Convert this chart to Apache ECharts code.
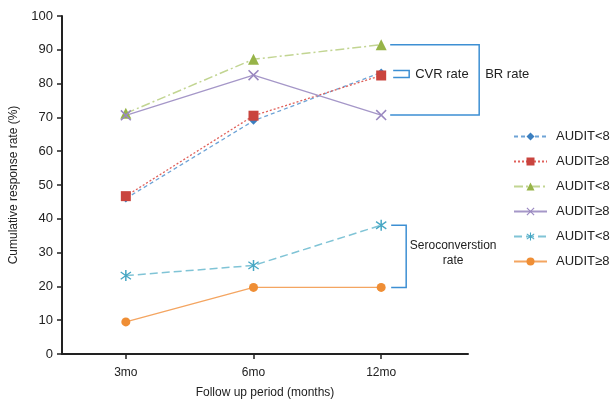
<!DOCTYPE html>
<html>
<head>
<meta charset="utf-8">
<title>response rate</title>
<script src="https://cdn.jsdelivr.net/npm/echarts@6/dist/echarts.min.js"></script>
<style>
  body { margin: 0; background: #fff; }
  #main { width: 611px; height: 399px; }
</style>
</head>
<body>
<div id="main"></div>
<script>
// follow-up points
var periods = ['3mo', '6mo', '12mo'];
var xPos = [1, 2, 3];
var legendNames = ['AUDIT<8', 'AUDIT\u22658', 'AUDIT<8', 'AUDIT\u22658', 'AUDIT<8', 'AUDIT\u22658'];

// CVR rate
var cvrLow = [46, 69, 83.3];
var cvrHigh = [46.7, 70.5, 82.4];
// BR rate
var brLow = [71.2, 87.2, 91.5];
var brHigh = [70.6, 82.5, 70.7];
// seroconversion rate
var seroLow = [23.2, 26.2, 38.1];
var seroHigh = [9.5, 19.7, 19.7];

function pts(vals) {
  return xPos.map(function (x, i) { return [x, vals[i]]; });
}

var xSym = 'path://M0,1L1,0L5,4L9,0L10,1L6,5L10,9L9,10L5,6L1,10L0,9L4,5Z';
var starSym = 'path://M4.4,0H5.6V10H4.4Z M0.6,2.2L1.2,1.2L9.4,7.8L8.8,8.8Z M8.8,1.2L9.4,2.2L1.2,8.8L0.6,7.8Z';
var font = 'Liberation Sans, Arial, sans-serif';

var chart = echarts.init(document.getElementById('main'));

var option = {
  animation: false,
  textStyle: { fontFamily: font },
  grid: { left: 62, top: 16, right: 143, bottom: 45, outerBoundsMode: 'none' },
  legend: {
    orient: 'vertical',
    left: 513,
    top: 130,
    padding: 0,
    itemWidth: 33,
    itemHeight: 10,
    itemGap: 12,
    textStyle: { fontSize: 13, color: '#222', padding: [0, 0, 0, 4] },
    formatter: function (name) { return legendNames[+name.slice(1) - 1]; },
    data: ['s1', 's2', 's3', 's4', 's5', 's6']
  },
  xAxis: {
    type: 'value',
    min: 0.5,
    max: 3.68,
    name: 'Follow up period (months)',
    nameLocation: 'middle',
    nameGap: 33,
    nameTextStyle: { fontSize: 12, color: '#222' },
    axisLine: { lineStyle: { color: '#222', width: 2 } },
    axisTick: { customValues: xPos, length: 5, lineStyle: { color: '#222', width: 1.5 } },
    axisLabel: {
      customValues: xPos,
      fontSize: 12,
      color: '#222',
      margin: 13,
      formatter: function (v) { return periods[xPos.indexOf(v)] || ''; }
    },
    splitLine: { show: false }
  },
  yAxis: {
    type: 'value',
    min: 0,
    max: 100,
    interval: 10,
    name: 'Cumulative response rate (%)',
    nameLocation: 'middle',
    nameGap: 42,
    nameTextStyle: { fontSize: 12, color: '#222' },
    axisLine: { show: true, lineStyle: { color: '#222', width: 2 } },
    axisTick: { show: true, length: 5, lineStyle: { color: '#222', width: 1.5 } },
    axisLabel: { fontSize: 13, color: '#222', margin: 9 },
    splitLine: { show: false }
  },
  series: [
    {
      name: 's1', type: 'line', data: pts(cvrLow),
      symbol: 'diamond', symbolSize: 8,
      itemStyle: { color: '#3b7fc0' },
      lineStyle: { color: '#6ea3d6', width: 1.3, type: [4, 3] }
    },
    {
      name: 's2', type: 'line', data: pts(cvrHigh),
      symbol: 'rect', symbolSize: 10,
      itemStyle: { color: '#c9443e' },
      lineStyle: { color: '#e0605a', width: 1.3, type: [2, 2] }
    },
    {
      name: 's3', type: 'line', data: pts(brLow),
      symbol: 'triangle', symbolSize: 11,
      itemStyle: { color: '#97b448' },
      lineStyle: { color: '#c2d592', width: 1.5, type: [9, 3, 2, 3] }
    },
    {
      name: 's4', type: 'line', data: pts(brHigh),
      symbol: xSym, symbolSize: 11,
      itemStyle: { color: '#9a88c0' },
      lineStyle: { color: '#a597c8', width: 1.3 }
    },
    {
      name: 's5', type: 'line', data: pts(seroLow),
      symbol: starSym, symbolSize: 11,
      itemStyle: { color: '#47a7c4' },
      lineStyle: { color: '#80c4d6', width: 1.5, type: [8, 4] }
    },
    {
      name: 's6', type: 'line', data: pts(seroHigh),
      symbol: 'circle', symbolSize: 9,
      itemStyle: { color: '#ef8e35' },
      lineStyle: { color: '#f4a561', width: 1.3 }
    }
  ]
};

chart.setOption(option);

// brackets and their labels, placed from the chart's own scale
function px(x, y) { return chart.convertToPixel({ gridIndex: 0 }, [x, y]); }
var bc = '#3d8fd3';
var x12 = px(3, 0)[0];
var brTop = px(3, brLow[2])[1], brBot = px(3, brHigh[2])[1];
var cvrTop = Math.min(px(3, cvrLow[2])[1], px(3, cvrHigh[2])[1]) - 2;
var cvrBot = Math.max(px(3, cvrLow[2])[1], px(3, cvrHigh[2])[1]) + 2;
var seTop = px(3, seroLow[2])[1], seBot = px(3, seroHigh[2])[1];

chart.setOption({
  graphic: [
    { type: 'polyline', shape: { points: [[x12 + 9, brTop], [x12 + 98, brTop], [x12 + 98, brBot], [x12 + 9, brBot]] },
      style: { stroke: bc, lineWidth: 1.5, fill: null } },
    { type: 'polyline', shape: { points: [[x12 + 12, cvrTop], [x12 + 28, cvrTop], [x12 + 28, cvrBot], [x12 + 12, cvrBot]] },
      style: { stroke: bc, lineWidth: 1.5, fill: null } },
    { type: 'polyline', shape: { points: [[x12 + 10, seTop], [x12 + 25, seTop], [x12 + 25, seBot], [x12 + 10, seBot]] },
      style: { stroke: bc, lineWidth: 1.5, fill: null } },
    { type: 'text', x: x12 + 34, y: (cvrTop + cvrBot) / 2,
      style: { text: 'CVR rate', fontSize: 13, fill: '#222', textVerticalAlign: 'middle', fontFamily: font } },
    { type: 'text', x: x12 + 104, y: (cvrTop + cvrBot) / 2,
      style: { text: 'BR rate', fontSize: 13, fill: '#222', textVerticalAlign: 'middle', fontFamily: font } },
    { type: 'text', x: x12 + 72, y: (seTop + seBot) / 2 - 3,
      style: { text: 'Seroconverstion\nrate', fontSize: 12, lineHeight: 15, fill: '#222', align: 'center', textVerticalAlign: 'middle', fontFamily: font } }
  ]
});
</script>
</body>
</html>
